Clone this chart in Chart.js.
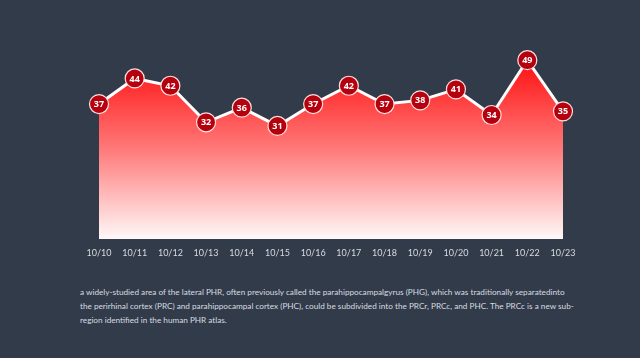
<!DOCTYPE html>
<html>
<head>
<meta charset="utf-8">
<script src="https://cdn.jsdelivr.net/npm/chart.js@4/dist/chart.umd.min.js"></script>
<style>
html,body{margin:0;padding:0;background:#323b4a;width:640px;height:358px;overflow:hidden;}
#wrap{position:absolute;left:0;top:0;width:640px;height:266px;}
#note{position:absolute;left:80px;top:285px;width:497px;font-family:Lato,sans-serif;font-size:8.2px;line-height:14px;color:#d8dbe0;}
</style>
</head>
<body>
<div id="wrap"><canvas id="c" width="640" height="266"></canvas></div>
<div id="note">a widely-studied area of the lateral PHR, often previously called the parahippocampalgyrus (PHG), which was traditionally separatedinto the perirhinal cortex (PRC) and parahippocampal cortex (PHC), could be subdivided into the PRCr, PRCc, and PHC. The PRCc is a new sub-region identified in the human PHR atlas.</div>
<script>
const categories = ["10/10","10/11","10/12","10/13","10/14","10/15","10/16","10/17","10/18","10/19","10/20","10/21","10/22","10/23"];
const values = [37,44,42,32,36,31,37,42,37,38,41,34,49,35];

const labelPlugin = {
  id: 'pointLabels',
  afterDatasetsDraw(chart){
    const ctx = chart.ctx;
    const meta = chart.getDatasetMeta(0);
    ctx.save();
    ctx.font = 'bold 9px "Open Sans", sans-serif';
    ctx.fillStyle = '#ffffff';
    ctx.textAlign = 'center';
    ctx.textBaseline = 'middle';
    meta.data.forEach((pt, i) => {
      ctx.fillText(String(values[i]), pt.x, pt.y + 0.5);
    });
    ctx.restore();
  }
};

const ctx = document.getElementById('c').getContext('2d');
new Chart(ctx, {
  type: 'line',
  data: {
    labels: categories,
    datasets: [{
      data: values,
      borderColor: '#ffffff',
      borderWidth: 3,
      tension: 0,
      fill: 'start',
      backgroundColor: (c) => {
        const a = c.chart.chartArea;
        if (!a) return 'rgba(255,30,30,1)';
        const g = c.chart.ctx.createLinearGradient(0, c.chart.scales.y.getPixelForValue(49), 0, a.bottom);
        g.addColorStop(0, '#ff1010');
        g.addColorStop(0.5, '#ff7a7a');
        g.addColorStop(1, '#fff8f8');
        return g;
      },
      pointRadius: 9.5,
      pointHoverRadius: 9.5,
      pointBackgroundColor: '#b5000e',
      pointBorderColor: '#ffe0e0',
      pointBorderWidth: 1.2,
      clip: false
    }]
  },
  options: {
    responsive: false,
    animation: false,
    events: [],
    layout: { padding: { left: 99, right: 77, top: 20, bottom: 0 } },
    plugins: { legend: { display: false }, tooltip: { enabled: false } },
    scales: {
      x: {
        offset: false,
        grid: { display: false, drawTicks: false },
        border: { display: false },
        ticks: { color: '#d8dbe0', font: { family: 'Lato, sans-serif', size: 9 }, padding: 8, maxRotation: 0, autoSkip: false }
      },
      y: {
        display: false,
        min: 0,
        max: 60
      }
    }
  },
  plugins: [labelPlugin]
});
</script>
</body>
</html>
